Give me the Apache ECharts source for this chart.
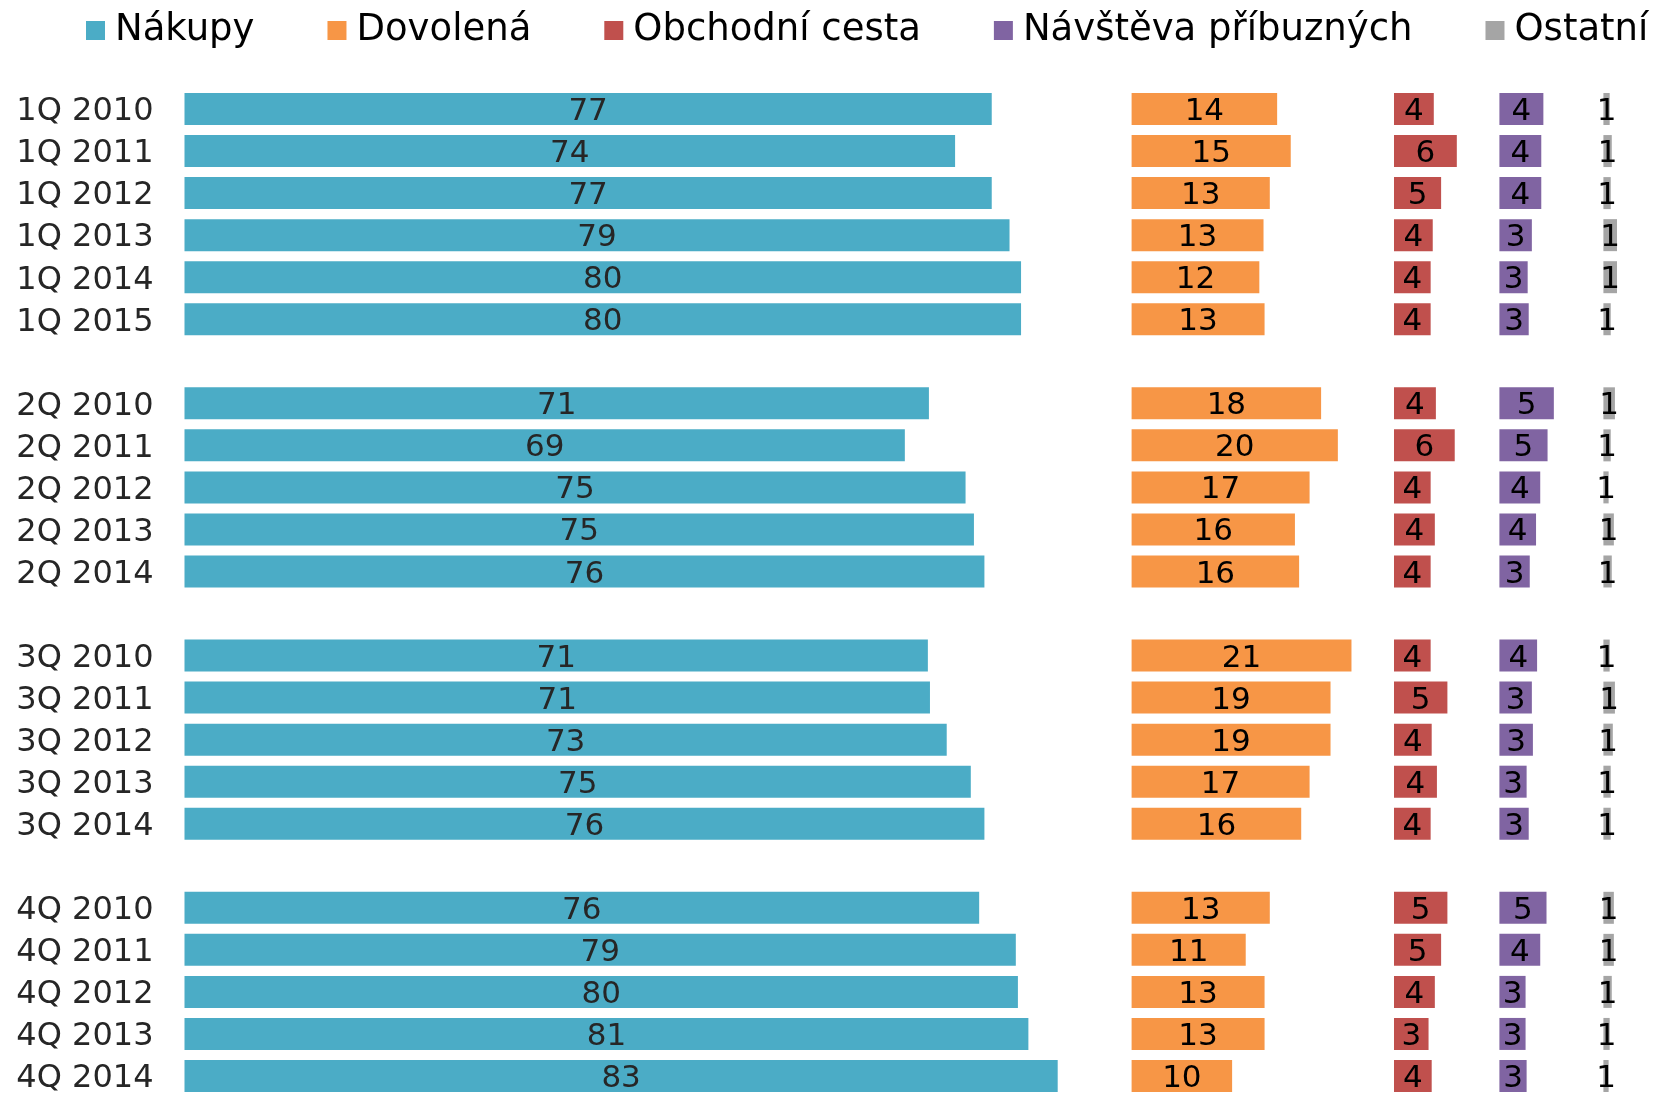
<!DOCTYPE html>
<html>
<head>
<meta charset="utf-8">
<script src="https://cdn.jsdelivr.net/npm/echarts@6/dist/echarts.min.js"></script>
<style>
html, body { margin: 0; padding: 0; background: #fff; }
#chart { width: 1655px; height: 1097px; }
</style>
</head>
<body>
<div id="chart"></div>
<script>
// kategorie (prázdné řádky oddělují čtvrtletí)
var categories = ['1Q 2010', '1Q 2011', '1Q 2012', '1Q 2013', '1Q 2014', '1Q 2015', ' ',
	'2Q 2010', '2Q 2011', '2Q 2012', '2Q 2013', '2Q 2014', '  ',
	'3Q 2010', '3Q 2011', '3Q 2012', '3Q 2013', '3Q 2014', '   ',
	'4Q 2010', '4Q 2011', '4Q 2012', '4Q 2013', '4Q 2014'];

var seriesNames = ['Nákupy', 'Dovolená', 'Obchodní cesta', 'Návštěva příbuzných', 'Ostatní'];

var nakupy = [77.1, 73.6, 77.1, 78.8, 79.9, 79.9, null,
	71.1, 68.8, 74.6, 75.4, 76.4, null,
	71.0, 71.2, 72.8, 75.1, 76.4, null,
	75.9, 79.4, 79.6, 80.6, 83.4];
var dovolena = [13.9, 15.2, 13.2, 12.6, 12.2, 12.7, null,
	18.1, 19.7, 17.0, 15.6, 16.0, null,
	21.0, 19.0, 19.0, 17.0, 16.2, null,
	13.2, 10.9, 12.7, 12.7, 9.6];
var obchodni = [3.8, 6.0, 4.5, 3.7, 3.5, 3.5, null,
	4.0, 5.8, 3.5, 3.9, 3.5, null,
	3.5, 5.1, 3.6, 4.1, 3.5, null,
	5.1, 4.5, 3.9, 3.3, 3.6];
var navsteva = [4.2, 4.0, 4.0, 3.1, 2.7, 2.8, null,
	5.2, 4.6, 3.9, 3.5, 2.9, null,
	3.6, 3.1, 3.2, 2.6, 2.8, null,
	4.5, 3.9, 2.5, 2.5, 2.6];
var ostatni = [0.6, 0.8, 0.7, 1.3, 1.3, 0.7, null,
	1.1, 0.7, 0.5, 1.0, 0.8, null,
	0.6, 1.1, 0.9, 0.7, 0.7, null,
	1.0, 1.0, 0.8, 0.6, 0.5];

var colors = ['#4BACC6', '#F79646', '#C0504D', '#8064A2', '#A5A5A5'];
var allData = [nakupy, dovolena, obchodni, navsteva, ostatni];

// panely: levý okraj a maximum osy, stejné měřítko pro všechny
var panelLeft = [184.5, 1131.6, 1394, 1499.4, 1603.4];
var panelMax = [85, 24, 10, 9, 4];
var pxPerUnit = 10.47;
var font = 'DejaVu Sans';

var grids = [], xAxes = [], yAxes = [], series = [];
for (var i = 0; i < 5; i++) {
	grids.push({
		left: panelLeft[i],
		top: 88,
		width: panelMax[i] * pxPerUnit,
		height: 1012.5
	});
	xAxes.push({
		gridIndex: i,
		type: 'value',
		min: 0,
		max: panelMax[i],
		show: false
	});
	yAxes.push({
		gridIndex: i,
		type: 'category',
		inverse: true,
		data: categories,
		axisLine: { show: false },
		axisTick: { show: false },
		splitLine: { show: false },
		axisLabel: {
			show: i === 0,
			margin: 31,
			formatter: '{v|{value}}',
			rich: {
				v: {
					fontSize: 32,
					fontFamily: font,
					color: '#262626',
					padding: [6, 0, 0, 0]
				}
			}
		}
	});
	series.push({
		name: seriesNames[i],
		type: 'bar',
		xAxisIndex: i,
		yAxisIndex: i,
		barWidth: 32,
		itemStyle: { color: colors[i] },
		label: {
			show: true,
			position: 'inside',
			offset: [0, 3],
			fontSize: 31,
			fontFamily: font,
			color: i === 0 ? '#262626' : '#000',
			formatter: function (p) {
				return p.value == null ? '' : Math.round(p.value);
			}
		},
		data: allData[i]
	});
}

var chart = echarts.init(document.getElementById('chart'));
chart.setOption({
	animation: false,
	color: colors,
	legend: {
		data: seriesNames,
		left: 81,
		top: 7,
		itemWidth: 19,
		itemHeight: 19,
		itemGap: 73,
		icon: 'rect',
		textStyle: {
			fontSize: 37,
			fontFamily: font,
			color: '#000',
			padding: [0, 0, 0, 5]
		}
	},
	grid: grids,
	xAxis: xAxes,
	yAxis: yAxes,
	series: series
});
</script>
</body>
</html>
